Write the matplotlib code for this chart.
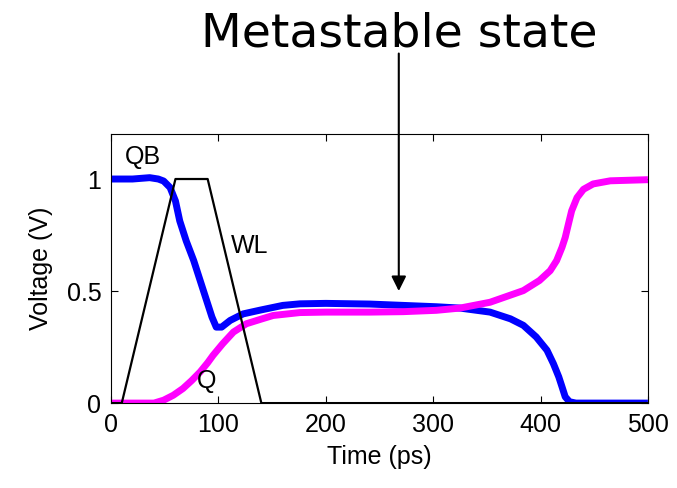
import numpy as np
import matplotlib
matplotlib.use('Agg')
import matplotlib.pyplot as plt

# WL pulse
t_wl = [0, 10, 60, 90, 140, 500]
v_wl = [0, 0, 1, 1, 0, 0]

# QB node (blue)
t_qb = [0, 20, 36, 44, 49, 55, 60, 64, 70, 77, 83, 89, 94, 98, 103, 111, 123, 139, 160,
        176, 200, 241, 272, 303, 325, 353, 372, 384, 396, 406, 412, 417, 420, 423, 427,
        433, 500]
v_qb = [1.0, 1.0, 1.006, 1.0, 0.991, 0.962, 0.902, 0.813, 0.724, 0.636, 0.547, 0.458,
        0.384, 0.339, 0.339, 0.369, 0.398, 0.415, 0.436, 0.443, 0.445, 0.442, 0.436,
        0.43, 0.424, 0.406, 0.376, 0.347, 0.295, 0.236, 0.176, 0.117, 0.073, 0.028, 0.006,
        0.0, 0.0]

# Q node (magenta)
t_q = [0, 40, 49, 58, 67, 75, 83, 90, 95, 104, 114, 126, 140, 151, 176, 200, 241, 272,
       303, 325, 353, 384, 399, 409, 415, 420, 423, 426, 429, 434, 440, 449, 465, 500]
v_q = [0.0, 0.0, 0.013, 0.035, 0.065, 0.1, 0.139, 0.18, 0.213, 0.265, 0.317, 0.354,
       0.375, 0.391, 0.404, 0.406, 0.406, 0.408, 0.414, 0.424, 0.45, 0.502, 0.547, 0.591,
       0.636, 0.695, 0.739, 0.799, 0.858, 0.917, 0.954, 0.978, 0.992, 0.997]

plt.rcParams.update({'font.family': 'Liberation Sans'})

fig = plt.figure(figsize=(6.77, 4.88), dpi=100)
ax = fig.add_axes([0.164, 0.174, 0.793, 0.551])

ax.plot(t_qb, v_qb, color='#0000ff', linewidth=5, solid_capstyle='butt',
        solid_joinstyle='round')
ax.plot(t_q, v_q, color='#ff00ff', linewidth=5, solid_capstyle='butt',
        solid_joinstyle='round')
ax.plot(t_wl, v_wl, color='black', linewidth=1.6)

ax.set_xlim(0, 500)
ax.set_ylim(0, 1.2)
ax.set_xticks(np.arange(0, 501, 100))
ax.set_yticks([0, 0.5, 1])
ax.set_yticklabels(['0', '0.5', '1'])
ax.tick_params(direction='in', top=True, right=True, labelsize=18, length=5,
               width=0.8, pad=7)
for s in ax.spines.values():
    s.set_linewidth(0.8)

ax.set_xlabel('Time (ps)', fontsize=18, labelpad=6)
ax.set_ylabel('Voltage (V)', fontsize=18, labelpad=10)

ax.text(30, 1.10, 'QB', fontsize=18, ha='center', va='center')
ax.text(129, 0.70, 'WL', fontsize=18, ha='center', va='center')
ax.text(89, 0.10, 'Q', fontsize=18, ha='center', va='center')

ax.annotate('', xy=(268, 0.50), xytext=(268, 1.56),
            arrowprops=dict(arrowstyle='-|>', color='black', lw=1.5,
                            mutation_scale=22, shrinkA=0, shrinkB=0),
            annotation_clip=False)
fig.text(0.59, 0.93, 'Metastable state', fontsize=34, family='DejaVu Sans',
         ha='center', va='center')

fig.savefig('out.png', dpi=100)
